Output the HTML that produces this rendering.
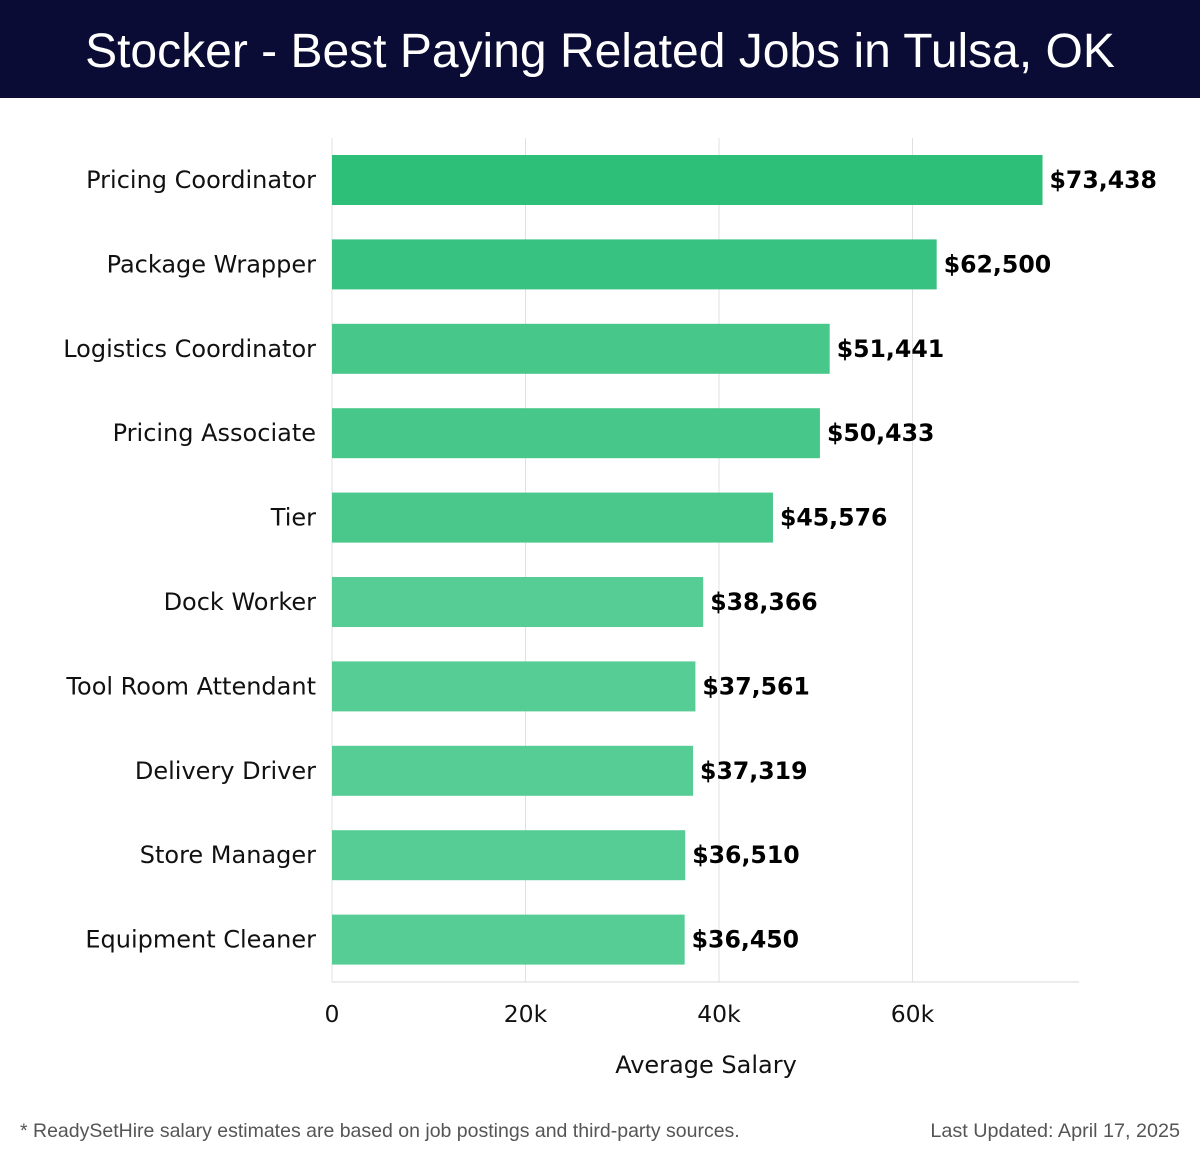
<!DOCTYPE html>
<html><head><meta charset="utf-8">
<style>
body{margin:0;width:1200px;height:1158px;background:#fff;font-family:"DejaVu Sans",sans-serif;overflow:hidden}
#hdr{position:absolute;left:0;top:0;width:1200px;height:98px;background:#0b0c35;color:#fff;font-family:"Liberation Sans",sans-serif;font-size:48px;text-align:center;line-height:104px}
svg{position:absolute;left:0;top:0}
</style></head><body>
<div id="hdr">Stocker - Best Paying Related Jobs in Tulsa, OK</div>
<svg id="chart" width="1200" height="1158"></svg>
<script>
const categories=["Pricing Coordinator","Package Wrapper","Logistics Coordinator","Pricing Associate","Tier","Dock Worker","Tool Room Attendant","Delivery Driver","Store Manager","Equipment Cleaner"];
const salaries=[73438,62500,51441,50433,45576,38366,37561,37319,36510,36450];
const valueLabels=["$73,438","$62,500","$51,441","$50,433","$45,576","$38,366","$37,561","$37,319","$36,510","$36,450"];
const tickValues=[0,20000,40000,60000];
const tickLabels=["0","20k","40k","60k"];
const barColors=["#2dbe77","#38c282","#48c78b","#48c78b","#4ac88c","#57cd96","#57cd96","#57cd96","#57cd96","#57cd96"];
const NS="http://www.w3.org/2000/svg",svg=document.getElementById('chart');
const x0=332,pxPer=193.5/20000,top0=138,step=84.4,barH=50;
const X=v=>x0+v*pxPer, Y=i=>top0+i*step+17;
function mk(t,a,txt){const e=document.createElementNS(NS,t);for(const k in a)e.setAttribute(k,a[k]);if(txt!=null)e.textContent=txt;svg.appendChild(e);return e;}
tickValues.forEach((v,i)=>{
 const g=mk('line',{x1:X(v),x2:X(v),y1:138,y2:982,stroke:'#e0e0e0','stroke-width':1});
 
 
 const t=mk('text',{x:X(v),y:1022,'text-anchor':'middle','font-size':23.5,fill:'#111'},tickLabels[i]);
 
 
});
const ax=mk('line',{x1:332,x2:1079,y1:982,y2:982,stroke:'#d8d8d8','stroke-width':1});


categories.forEach((c,i)=>{
 const y=Y(i);
 const r=mk('rect',{x:x0,y:y,width:X(salaries[i])-x0,height:barH,fill:barColors[i]});
 
 
 const l=mk('text',{x:316,y:y+33,'text-anchor':'end','font-size':24,fill:'#111'},c);
 
 
 const v=mk('text',{x:X(salaries[i])+7,y:y+33,'font-size':23.6,'font-weight':'bold',fill:'#000'},valueLabels[i]);
 
 
});
const at=mk('text',{x:706,y:1073,'text-anchor':'middle','font-size':24,fill:'#111'},'Average Salary');


const f1=mk('text',{x:20,y:1137,'font-size':19.5,'font-family':'Liberation Sans, sans-serif',fill:'#555'},'* ReadySetHire salary estimates are based on job postings and third-party sources.');


const f2=mk('text',{x:1180,y:1137,'text-anchor':'end','font-size':19.8,'font-family':'Liberation Sans, sans-serif',fill:'#555'},'Last Updated: April 17, 2025');


</script>
</body></html>
